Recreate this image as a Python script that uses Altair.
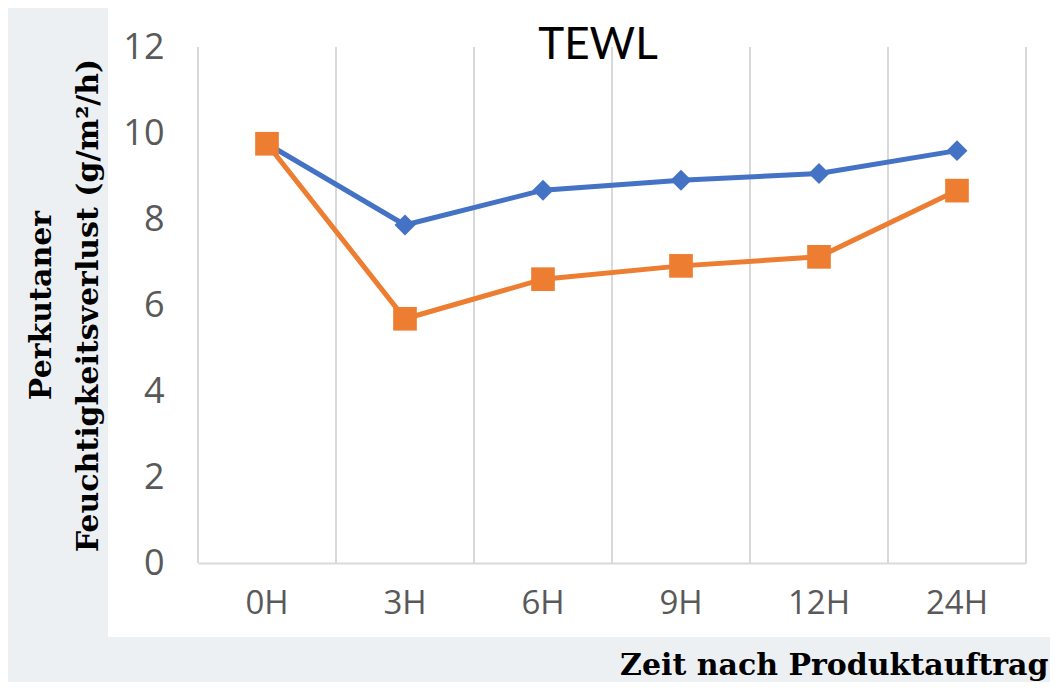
import altair as alt
import pandas as pd

# ---- data ----
times = ["0H", "3H", "6H", "9H", "12H", "24H"]
series_names = ["Serie 1", "Serie 2"]
values_blue = [9.75, 7.86, 8.67, 8.90, 9.06, 9.59]
values_orange = [9.75, 5.68, 6.60, 6.91, 7.12, 8.66]
y_ticks = [0, 2, 4, 6, 8, 10, 12]
chart_title = ["TEWL"]
x_title = "Zeit nach Produktauftrag"
y_title = ["Perkutaner", "Feuchtigkeitsverlust (g/m²/h)"]

series_colors = ["#4472C4", "#ED7D31"]
series_shapes = ["diamond", "square"]
series_sizes = [440, 560]

df = pd.DataFrame({
    "Zeit": times + times,
    "TEWL": values_blue + values_orange,
    "Serie": [series_names[0]] * len(times) + [series_names[1]] * len(times),
})
grid_df = pd.DataFrame({"Zeit": times})
last_df = pd.DataFrame({"Zeit": times[-1:]})
title_df = pd.DataFrame({"t": chart_title})
panel_df = pd.DataFrame({"p": [0]})

W, H = 828, 516

x_scale = alt.Scale(type="band", domain=times, paddingInner=0, paddingOuter=0)
y_scale = alt.Scale(domain=[0, 12])
color_scale = alt.Scale(domain=series_names, range=series_colors)

x_axis = alt.Axis(
    title=x_title, grid=False, ticks=False,
    domainColor="#d9d9d9", domainWidth=2,
    labelAngle=0, labelFont="Open Sans", labelFontSize=33, labelColor="#595959",
    labelPadding=24,
    titleFont="DejaVu Serif", titleFontSize=30, titleFontWeight="bold", titleColor="#000000",
    titleX=850, titleY=111, titleAlign="right", titleBaseline="alphabetic",
    zindex=1,
)
y_axis = alt.Axis(
    values=y_ticks, grid=False, domain=False, ticks=False,
    labelFont="Open Sans", labelFontSize=36, labelColor="#595959", labelPadding=34,
    title=y_title, titleFont="DejaVu Serif", titleFontSize=30, titleFontWeight="bold",
    titleColor="#000000", titleAngle=270, titleX=-148, titleY=258,
    titleAlign="center", titleBaseline="alphabetic", titleLineHeight=47,
    zindex=1,
)

X = alt.X("Zeit:N", scale=x_scale, axis=x_axis, sort=times)
Y = alt.Y("TEWL:Q", scale=y_scale, axis=y_axis)

panel = alt.Chart(panel_df).mark_rect(color="white").encode(
    x=alt.value(-90), x2=alt.value(853), y=alt.value(-43), y2=alt.value(590)
)

grid = alt.Chart(grid_df).mark_rule(color="#d9d9d9", strokeWidth=2).encode(
    x=alt.X("Zeit:N", bandPosition=0, scale=x_scale, axis=x_axis, sort=times),
    y=alt.value(0), y2=alt.value("height"),
)
grid_end = alt.Chart(last_df).mark_rule(color="#d9d9d9", strokeWidth=2).encode(
    x=alt.X("Zeit:N", bandPosition=1, scale=x_scale, axis=x_axis, sort=times),
    y=alt.value(0), y2=alt.value("height"),
)

lines = alt.Chart(df).mark_line(strokeWidth=5).encode(
    x=X, y=Y,
    color=alt.Color("Serie:N", scale=color_scale, legend=None),
)

points = alt.Chart(df).mark_point(filled=True, opacity=1).encode(
    x=X, y=Y,
    color=alt.Color("Serie:N", scale=color_scale, legend=None),
    shape=alt.Shape("Serie:N", scale=alt.Scale(domain=series_names, range=series_shapes), legend=None),
    size=alt.Size("Serie:N", scale=alt.Scale(domain=series_names, range=series_sizes), legend=None),
)

title = alt.Chart(title_df).mark_text(
    font="Lato", fontSize=44, color="#000000", align="center", baseline="alphabetic"
).encode(text="t:N", x=alt.value(400), y=alt.value(12))

chart = alt.layer(panel, grid, grid_end, lines, points, title).properties(
    width=W, height=H, autosize="none",
    padding={"left": 190, "top": 39, "right": 24, "bottom": 119},
    background="#edf0f3",
).configure_view(stroke=None)

chart.save("out.html", embed_options={"renderer": "svg", "actions": False})
